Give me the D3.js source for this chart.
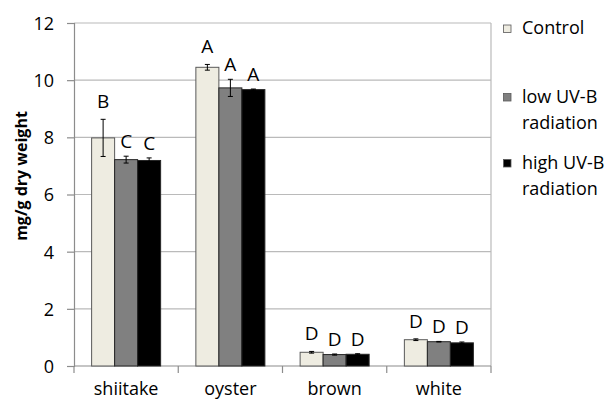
<!DOCTYPE html>
<html>
<head>
<meta charset="utf-8">
<script src="https://cdn.jsdelivr.net/npm/d3@7"></script>
<style>
  html, body { margin: 0; padding: 0; background: #fff; }
  svg { display: block; font-family: "Open Sans", "Noto Sans", sans-serif; }
</style>
</head>
<body>
<svg id="chart" width="610" height="401"></svg>
<script>
// Mushroom types on the x axis
const categories = ["shiitake", "oyster", "brown", "white"];
// Treatments
const seriesNames = ["Control", "low UV-B radiation", "high UV-B radiation"];
const legendLines = [["Control"], ["low UV-B", "radiation"], ["high UV-B", "radiation"]];
const seriesColors = ["#eeece1", "#808080", "#000000"];

// Means (mg/g dry weight) per treatment, in category order
const controlValues = [7.98, 10.45, 0.48, 0.92];
const lowUVValues   = [7.22, 9.73, 0.40, 0.85];
const highUVValues  = [7.19, 9.67, 0.41, 0.81];

// Standard errors
const controlErr = [0.65, 0.10, 0.03, 0.03];
const lowUVErr   = [0.12, 0.30, 0.02, 0.01];
const highUVErr  = [0.09, 0.02, 0.02, 0.03];

// Significance letters
const controlLetters = ["B", "A", "D", "D"];
const lowUVLetters   = ["C", "A", "D", "D"];
const highUVLetters  = ["C", "A", "D", "D"];

const yTicks = [0, 2, 4, 6, 8, 10, 12];
const yLabel = "mg/g dry weight";

const values = [controlValues, lowUVValues, highUVValues];
const errs = [controlErr, lowUVErr, highUVErr];
const letters = [controlLetters, lowUVLetters, highUVLetters];

const data = [];
categories.forEach((c, ci) => {
  seriesNames.forEach((s, si) => {
    data.push({ cat: c, series: si, value: values[si][ci], err: errs[si][ci], letter: letters[si][ci] });
  });
});

const svg = d3.select("#chart");
const plot = { left: 74, right: 491, top: 23, bottom: 366 };

const x = d3.scaleBand().domain(categories).range([plot.left, plot.right]).padding(0);
const xInner = d3.scaleBand().domain(d3.range(seriesNames.length))
  .range([0, x.bandwidth()]).paddingInner(0).paddingOuter(0.766);
const y = d3.scaleLinear().domain([0, 12]).range([plot.bottom, plot.top]);

const gridColor = "#bababa";
const axisColor = "#8c8c8c";

// Horizontal gridlines
svg.append("g").selectAll("line").data(yTicks.filter(t => t > 0)).join("line")
  .attr("x1", plot.left).attr("x2", plot.right)
  .attr("y1", d => y(d)).attr("y2", d => y(d))
  .attr("stroke", gridColor).attr("stroke-width", 1.2);

// Right frame edge
svg.append("line")
  .attr("x1", plot.right).attr("x2", plot.right)
  .attr("y1", y(12)).attr("y2", y(0))
  .attr("stroke", gridColor).attr("stroke-width", 1.2);

// Y axis
const yAxis = d3.axisLeft(y).tickValues(yTicks).tickSize(7).tickPadding(13);
const gy = svg.append("g").attr("transform", `translate(${plot.left},0)`).call(yAxis);
gy.select(".domain").attr("stroke", axisColor).attr("stroke-width", 1.2);
gy.selectAll(".tick line").attr("stroke", axisColor).attr("stroke-width", 1.2);
gy.selectAll(".tick text").attr("font-size", 18).attr("fill", "#000")
  .attr("font-family", "'Open Sans', sans-serif").attr("dy", "0.36em");

// X axis with ticks on category boundaries
svg.append("line")
  .attr("x1", plot.left).attr("x2", plot.right)
  .attr("y1", plot.bottom).attr("y2", plot.bottom)
  .attr("stroke", axisColor).attr("stroke-width", 1.2);
const boundaries = categories.map(c => x(c)).concat([plot.right]);
svg.append("g").selectAll("line").data(boundaries).join("line")
  .attr("x1", d => d).attr("x2", d => d)
  .attr("y1", plot.bottom).attr("y2", plot.bottom + 7)
  .attr("stroke", axisColor).attr("stroke-width", 1.2);
svg.append("g").selectAll("text").data(categories).join("text")
  .attr("x", d => x(d) + x.bandwidth() / 2)
  .attr("y", 395)
  .attr("text-anchor", "middle")
  .attr("font-size", 18)
  .text(d => d);

// Bars
const bx = d => x(d.cat) + xInner(d.series);
svg.append("g").selectAll("rect").data(data).join("rect")
  .attr("x", bx)
  .attr("y", d => y(d.value))
  .attr("width", xInner.bandwidth())
  .attr("height", d => y(0) - y(d.value))
  .attr("fill", d => seriesColors[d.series])
  .attr("stroke", d => d.series === 0 ? "#595959" : "#262626")
  .attr("stroke-width", 1);

// Error bars
const cap = 2.5;
const eb = svg.append("g").attr("stroke", "#000").attr("stroke-width", 1);
data.forEach(d => {
  const cx = bx(d) + xInner.bandwidth() / 2;
  const y1 = y(d.value + d.err), y2 = y(d.value - d.err);
  eb.append("line").attr("x1", cx).attr("x2", cx).attr("y1", y1).attr("y2", y2);
  eb.append("line").attr("x1", cx - cap).attr("x2", cx + cap).attr("y1", y1).attr("y2", y1);
  eb.append("line").attr("x1", cx - cap).attr("x2", cx + cap).attr("y1", y2).attr("y2", y2);
});

// Significance letters above the error bars
const letterGap = [11, 8, 8];
svg.append("g").selectAll("text").data(data).join("text")
  .attr("x", d => bx(d) + xInner.bandwidth() / 2)
  .attr("y", d => y(d.value + d.err) - letterGap[d.series])
  .attr("text-anchor", "middle")
  .attr("font-size", 19)
  .text(d => d.letter);

// Y axis title
svg.append("text")
  .attr("transform", "translate(27,176) rotate(-90)")
  .attr("text-anchor", "middle")
  .attr("font-size", 16)
  .attr("font-weight", "bold")
  .text(yLabel);

// Legend
const legendY = [34, 102.5, 168.5];
const lg = svg.append("g");
legendLines.forEach((lines, i) => {
  lg.append("rect")
    .attr("x", 503.5).attr("y", legendY[i] - 9)
    .attr("width", 7.5).attr("height", 7.5)
    .attr("fill", seriesColors[i])
    .attr("stroke", "#595959").attr("stroke-width", 0.8);
  lines.forEach((t, k) => {
    lg.append("text")
      .attr("x", 522).attr("y", legendY[i] + k * 26)
      .attr("font-size", 18)
      .text(t);
  });
});
</script>
</body>
</html>
